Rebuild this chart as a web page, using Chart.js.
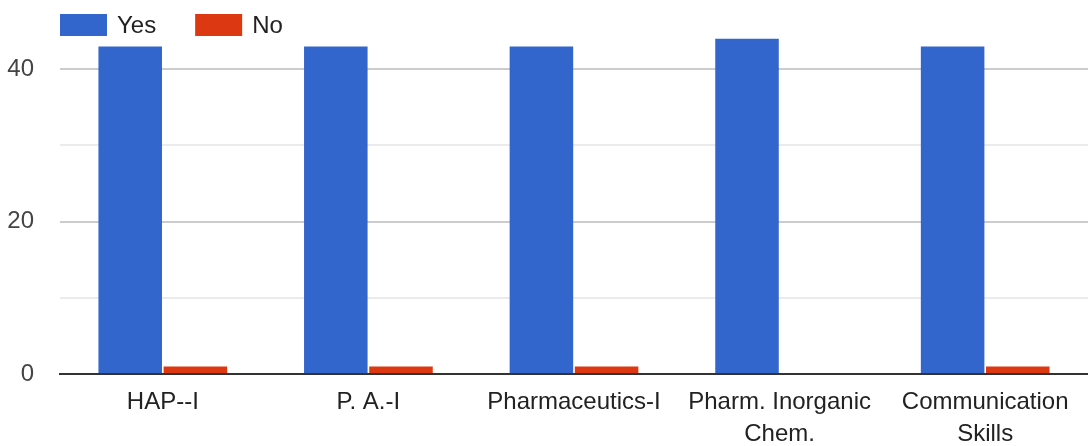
<!DOCTYPE html>
<html>
<head>
<meta charset="utf-8">
<title>Yes / No by subject</title>
<script src="https://cdn.jsdelivr.net/npm/chart.js@4/dist/chart.umd.min.js"></script>
<style>
    html, body { margin: 0; padding: 0; background: #fff; }
    #wrap { position: relative; width: 1088px; height: 446px; }
</style>
</head>
<body>
<div id="wrap"><canvas id="chart"></canvas></div>
<script>
// Data
const categories = ['HAP--I', 'P. A.-I', 'Pharmaceutics-I', ['Pharm. Inorganic', 'Chem.'], ['Communication', 'Skills']];
const yesValues = [43, 43, 43, 44, 43];
const noValues = [1, 1, 1, 0, 1];
const seriesNames = ['Yes', 'No'];
const seriesColors = ['#3366cc', '#dc3912'];
const yTickValues = [0, 10, 20, 30, 40];
const yTickLabels = ['0', '', '20', '', '40'];

const FONT = '"Liberation Sans", Arial, sans-serif';
Chart.defaults.font.family = FONT;

// Legend drawn across the top, over the plot area (like the original)
const topLegend = {
    id: 'topLegend',
    afterDraw(chart) {
        const ctx = chart.ctx;
        ctx.save();
        ctx.font = '24px ' + FONT;
        ctx.textBaseline = 'middle';
        let x = 60;
        chart.data.datasets.forEach(ds => {
            ctx.fillStyle = ds.backgroundColor;
            ctx.fillRect(x, 14, 47, 22);
            ctx.fillStyle = '#222';
            ctx.fillText(ds.label, x + 57, 26);
            x += 57 + ctx.measureText(ds.label).width + 39;
        });
        ctx.restore();
    }
};

const ctx = document.getElementById('chart').getContext('2d');
new Chart(ctx, {
    type: 'bar',
    data: {
        labels: categories,
        datasets: [
            { label: seriesNames[0], data: yesValues, backgroundColor: seriesColors[0] },
            { label: seriesNames[1], data: noValues, backgroundColor: seriesColors[1] }
        ]
    },
    options: {
        responsive: true,
        maintainAspectRatio: false,
        animation: false,
        datasets: {
            bar: { categoryPercentage: 0.634, barPercentage: 0.975, borderWidth: 0 }
        },
        layout: { padding: 0 },
        plugins: {
            legend: { display: false },
            tooltip: { enabled: false }
        },
        scales: {
            x: {
                grid: { display: false, drawTicks: false },
                border: { display: true, color: '#333333', width: 2, z: 1 },
                ticks: {
                    color: '#222',
                    font: { size: 24, lineHeight: 1.34 },
                    padding: 12,
                    maxRotation: 0,
                    autoSkip: false
                },
                afterFit: s => { s.height = 72; }
            },
            y: {
                min: 0,
                max: 49.1,
                border: { display: false },
                grid: {
                    drawTicks: false,
                    lineWidth: 2,
                    color: c => {
                        const v = c.tick ? c.tick.value : 0;
                        if (v === 0) return 'rgba(0,0,0,0)';
                        return v % 20 === 0 ? '#cccccc' : '#ebebeb';
                    }
                },
                ticks: {
                    color: '#444',
                    font: { size: 24 },
                    padding: 26,
                    callback: (v, i) => yTickLabels[i]
                },
                afterBuildTicks: s => { s.ticks = yTickValues.map(v => ({ value: v })); },
                afterFit: s => { s.width = 60; s.paddingTop = 0; s.paddingBottom = 0; }
            }
        }
    },
    plugins: [topLegend]
});
</script>
</body>
</html>
